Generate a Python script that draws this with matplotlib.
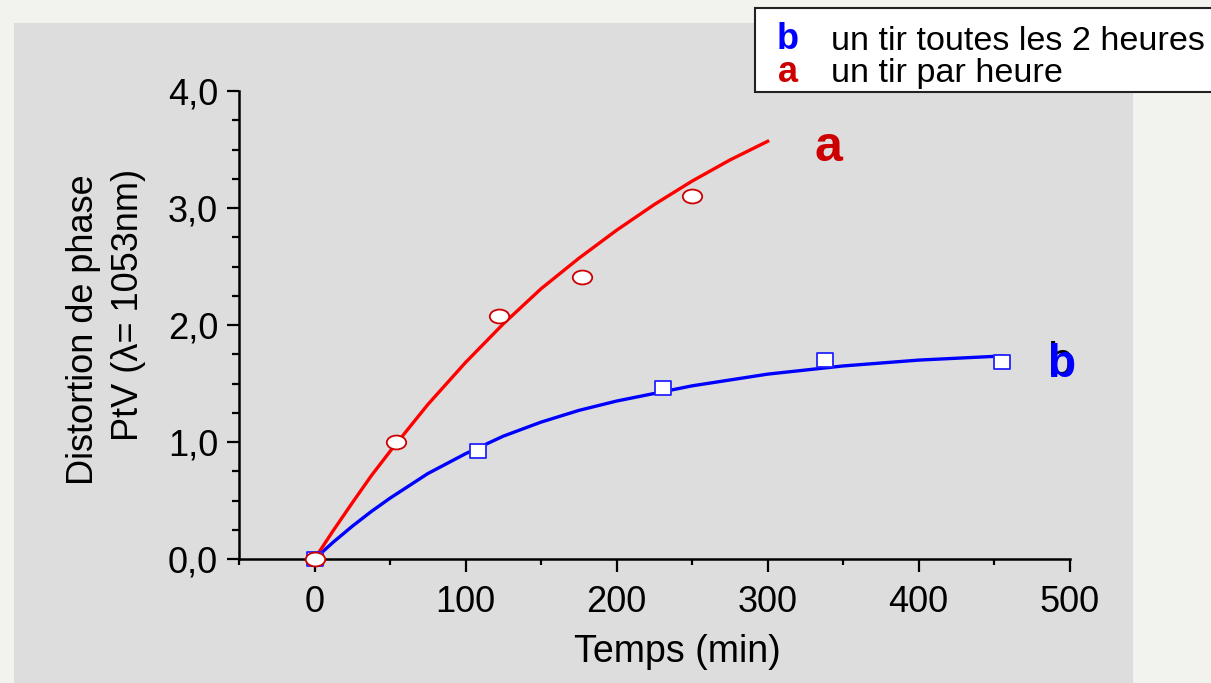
import numpy as np
import matplotlib
matplotlib.use('Agg')
import matplotlib.pyplot as plt
from matplotlib.patches import Rectangle
from matplotlib.path import Path
import matplotlib.transforms as mtransforms

plt.rcParams['font.family'] = ['Liberation Sans', 'DejaVu Sans']

time_a = [0, 54, 122, 177, 250]
dist_a = [0.0, 1.00, 2.08, 2.41, 3.10]
time_b = [0, 108, 231, 338, 455]
dist_b = [0.0, 0.92, 1.46, 1.70, 1.68]

# courbes d'ajustement
fit_a_t = [0, 12.5, 25, 37.5, 50, 75, 100, 125, 150, 175, 200, 225, 250, 275, 300]
fit_a_y = [0.0, 0.245, 0.48, 0.71, 0.92, 1.32, 1.68, 2.01, 2.31, 2.57, 2.81, 3.03, 3.23, 3.41, 3.57]
fit_b_t = [0, 12.5, 25, 37.5, 50, 75, 100, 125, 150, 175, 200, 250, 300, 350, 400, 455]
fit_b_y = [0.0, 0.145, 0.28, 0.405, 0.52, 0.73, 0.90, 1.05, 1.17, 1.27, 1.35, 1.48, 1.58, 1.65, 1.70, 1.735]

xticks = [0, 100, 200, 300, 400, 500]
xtick_labels = ['0', '100', '200', '300', '400', '500']
yticks = [0, 1, 2, 3, 4]
ytick_labels = ['0,0', '1,0', '2,0', '3,0', '4,0']

W, H = 1211, 683
fig = plt.figure(figsize=(W / 100, H / 100), dpi=100)
fig.patch.set_facecolor('#f2f2ee')
fig.patches.append(Rectangle((14 / W, 0), (1133 - 14) / W, 1 - 23 / H,
                             transform=fig.transFigure, facecolor='#dddddd',
                             edgecolor='none', zorder=-5))

ax = fig.add_axes([239 / W, 1 - 559 / H, (1069.7 - 239) / W, (559 - 91) / H])
ax.set_facecolor('none')
ax.set_xlim(-50, 500)
ax.set_ylim(0, 4)
for s in ['top', 'right']:
    ax.spines[s].set_visible(False)
for s in ['left', 'bottom']:
    ax.spines[s].set_linewidth(1.8)

ax.set_xticks(xticks)
ax.set_xticklabels(xtick_labels)
ax.set_xticks(np.arange(-50, 500, 100), minor=True)
ax.set_yticks(yticks)
ax.set_yticklabels(ytick_labels)
ax.set_yticks(np.arange(0.25, 4, 0.25), minor=True)
ax.tick_params(axis='both', which='major', direction='out', width=1.6, labelsize=26)
ax.tick_params(axis='y', which='major', length=9, pad=6)
ax.tick_params(axis='y', which='minor', length=5, width=1.6)
ax.tick_params(axis='x', which='major', length=9, pad=10)
ax.tick_params(axis='x', which='minor', length=4, width=1.6)

# marqueurs ellipse et rectangle
circ = Path.unit_circle()
ellipse = Path(circ.vertices * np.array([1.4, 1.0]), circ.codes)
rect = Path([(-0.6, -0.5), (0.6, -0.5), (0.6, 0.5), (-0.6, 0.5), (-0.6, -0.5)],
            [Path.MOVETO, Path.LINETO, Path.LINETO, Path.LINETO, Path.CLOSEPOLY])

ax.plot(fit_b_t, fit_b_y, color='#0000ff', lw=2.4, zorder=3, clip_on=False)
ax.plot(fit_a_t, fit_a_y, color='#ff0000', lw=2.4, zorder=3, clip_on=False)
ax.plot(time_b, dist_b, ls='none', marker=rect, ms=12, mfc='white', mec='#2222ff',
        mew=1.3, zorder=4, clip_on=False)
ax.plot(time_a, dist_a, ls='none', marker=ellipse, ms=14, mfc='white', mec='#cc0000',
        mew=1.3, zorder=5, clip_on=False)

ax.text(340, 3.51, 'a', color='#cc0000', fontsize=36, fontweight='bold',
        ha='center', va='center')
shadow = mtransforms.offset_copy(ax.transData, fig=fig, x=-2, y=2, units='dots')
ax.text(495, 1.66, 'b', color='black', fontsize=33, ha='center', va='center',
        transform=shadow)
ax.text(495, 1.66, 'b', color='#0000ff', fontsize=33, fontweight='bold',
        ha='center', va='center')

fig.text(677 / W, 1 - 652 / H, 'Temps (min)', fontsize=27, ha='center', va='center')
fig.text(84 / W, 1 - 330 / H, 'Distortion de phase', fontsize=26, rotation=90,
         ha='center', va='center')
fig.text(129 / W, 1 - 305 / H, 'PtV (λ= 1053nm)', fontsize=26, rotation=90,
         ha='center', va='center')

# legende
fig.patches.append(Rectangle((755 / W, 1 - 92 / H), (W + 5 - 755) / W, 84 / H,
                             transform=fig.transFigure, facecolor='white',
                             edgecolor='#222222', lw=1.5, zorder=5))
fig.text(788 / W, 1 - 49 / H, 'b', color='#0000ff', fontsize=26, fontweight='bold',
         ha='center', va='baseline', zorder=6)
fig.text(831 / W, 1 - 50 / H, 'un tir toutes les 2 heures', fontsize=24.6,
         ha='left', va='baseline', zorder=6)
fig.text(788 / W, 1 - 82 / H, 'a', color='#cc0000', fontsize=26, fontweight='bold',
         ha='center', va='baseline', zorder=6)
fig.text(831 / W, 1 - 82 / H, 'un tir par heure', fontsize=24.6,
         ha='left', va='baseline', zorder=6)

fig.savefig('out.png', dpi=100, facecolor=fig.get_facecolor())
